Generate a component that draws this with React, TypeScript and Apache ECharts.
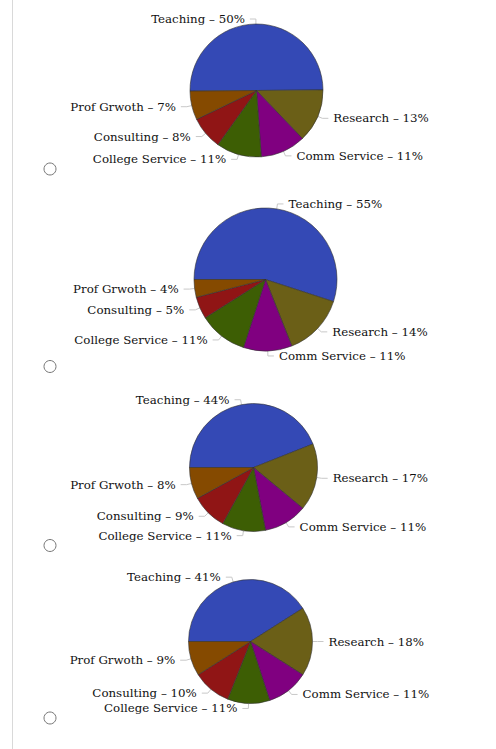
import React, { useEffect, useRef } from "react";
import * as echarts from "echarts";

const categories = ["Teaching", "Research", "Comm Service", "College Service", "Consulting", "Prof Grwoth"];
const colors = ["#3449b5", "#6b5f17", "#800080", "#3d5e04", "#901515", "#854a00"];
const pie1 = [50, 13, 11, 11, 8, 7];
const pie2 = [55, 14, 11, 11, 5, 4];
const pie3 = [44, 17, 11, 11, 9, 8];
const pie4 = [41, 18, 11, 11, 10, 9];

const pies = [
  { values: pie1, center: [256.5, 90.5], radius: 66.5, start: 180.5 },
  { values: pie2, center: [265.5, 279.5], radius: 71.5, start: 180 },
  { values: pie3, center: [253.5, 467.5], radius: 64, start: 180 },
  { values: pie4, center: [250.5, 641.5], radius: 62, start: 180 },
];
const radioY = [169, 366.5, 545.5, 718];

export default function App() {
  const ref = useRef<HTMLDivElement>(null);
  useEffect(() => {
    if (!ref.current) return;
    const chart = echarts.init(ref.current, null, { renderer: "svg" });
    chart.setOption({
      animation: false,
      backgroundColor: "#ffffff",
      graphic: [
        { type: "line", shape: { x1: 12.5, y1: 0, x2: 12.5, y2: 749 }, style: { stroke: "#d9d9d9", lineWidth: 1 } },
        ...radioY.map((y) => ({
          type: "circle",
          shape: { cx: 50, cy: y, r: 6 },
          style: { fill: "#fff", stroke: "#777", lineWidth: 1 },
        })),
      ],
      series: pies.map((p) => ({
        type: "pie",
        center: p.center,
        radius: p.radius,
        startAngle: p.start,
        clockwise: true,
        avoidLabelOverlap: true,
        itemStyle: { borderColor: "#333", borderWidth: 0.6 },
        label: {
          show: true,
          position: "outside",
          formatter: (d: any) => `${d.name} – ${d.value}%`,
          fontFamily: "DejaVu Serif",
          fontSize: 11.8,
          color: "#111",
        },
        labelLine: { show: true, length: 5, length2: 6, lineStyle: { color: "#c8c8c8", width: 1 } },
        emphasis: { disabled: true },
        data: p.values.map((v, i) => ({ name: categories[i], value: v, itemStyle: { color: colors[i] } })),
      })),
    });
    return () => chart.dispose();
  }, []);
  return <div ref={ref} style={{ position: "fixed", left: 0, top: 0, width: 496, height: 749 }} />;
}
